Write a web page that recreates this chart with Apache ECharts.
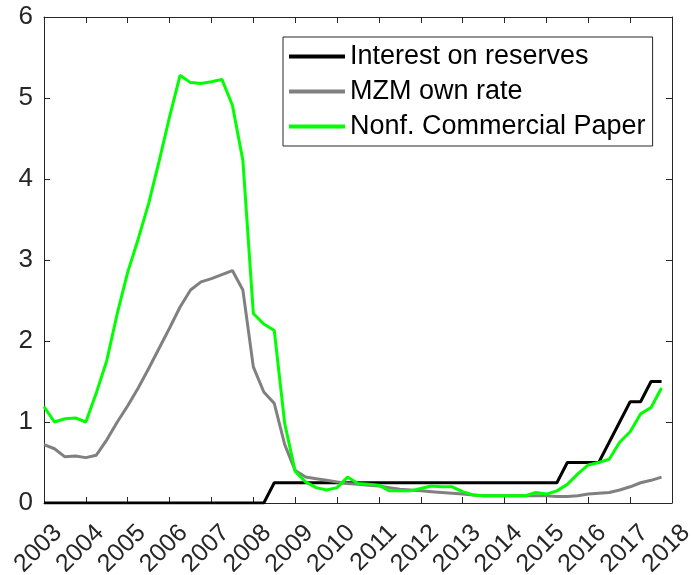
<!DOCTYPE html>
<html>
<head>
<meta charset="utf-8">
<script src="https://cdn.jsdelivr.net/npm/echarts@6/dist/echarts.min.js"></script>
<style>
html,body{margin:0;padding:0;background:#fff;}
#chart{width:692px;height:575px;}
</style>
</head>
<body>
<div id="chart"></div>
<script>
// Quarterly dates (decimal years), 2003Q1 .. 2017Q4
const quarters = [
  2003.00,2003.25,2003.50,2003.75, 2004.00,2004.25,2004.50,2004.75,
  2005.00,2005.25,2005.50,2005.75, 2006.00,2006.25,2006.50,2006.75,
  2007.00,2007.25,2007.50,2007.75, 2008.00,2008.25,2008.50,2008.75,
  2009.00,2009.25,2009.50,2009.75, 2010.00,2010.25,2010.50,2010.75,
  2011.00,2011.25,2011.50,2011.75, 2012.00,2012.25,2012.50,2012.75,
  2013.00,2013.25,2013.50,2013.75, 2014.00,2014.25,2014.50,2014.75,
  2015.00,2015.25,2015.50,2015.75, 2016.00,2016.25,2016.50,2016.75,
  2017.00,2017.25,2017.50,2017.75
];

const seriesNames = ['Interest on reserves', 'MZM own rate', 'Nonf. Commercial Paper'];

const interestOnReserves = [
  0,0,0,0, 0,0,0,0,
  0,0,0,0, 0,0,0,0,
  0,0,0,0, 0,0,0.25,0.25,
  0.25,0.25,0.25,0.25, 0.25,0.25,0.25,0.25,
  0.25,0.25,0.25,0.25, 0.25,0.25,0.25,0.25,
  0.25,0.25,0.25,0.25, 0.25,0.25,0.25,0.25,
  0.25,0.25,0.5,0.5, 0.5,0.5,0.75,1.0,
  1.25,1.25,1.5,1.5
];

const mzmOwnRate = [
  0.72,0.67,0.57,0.58, 0.56,0.59,0.78,1.00,
  1.20,1.42,1.66,1.91, 2.16,2.42,2.63,2.73,
  2.77,2.82,2.87,2.63, 1.68,1.37,1.23,0.72,
  0.40,0.32,0.30,0.28, 0.26,0.24,0.23,0.22,
  0.21,0.19,0.17,0.16, 0.15,0.14,0.13,0.12,
  0.11,0.10,0.09,0.09, 0.09,0.09,0.09,0.09,
  0.09,0.08,0.08,0.09, 0.11,0.12,0.13,0.16,
  0.20,0.25,0.28,0.32
];

const commercialPaper = [
  1.19,1.00,1.04,1.05, 1.00,1.36,1.76,2.34,
  2.85,3.26,3.70,4.22, 4.77,5.28,5.19,5.18,
  5.20,5.23,4.91,4.23, 2.34,2.21,2.13,0.98,
  0.39,0.26,0.19,0.16, 0.19,0.32,0.24,0.23,
  0.22,0.15,0.15,0.15, 0.18,0.21,0.20,0.20,
  0.14,0.10,0.09,0.09, 0.09,0.09,0.09,0.13,
  0.11,0.15,0.23,0.36, 0.47,0.50,0.54,0.75,
  0.88,1.10,1.18,1.42
];

// Tick labels
const xTickLabels = [2003,2004,2005,2006,2007,2008,2009,2010,2011,2012,2013,2014,2015,2016,2017,2018];
const yTickLabels = [0,1,2,3,4,5,6];

const xTickMin = xTickLabels[0], xTickMax = xTickLabels[xTickLabels.length - 1];
const yTickMin = yTickLabels[0], yTickMax = yTickLabels[yTickLabels.length - 1];

const pairs = arr => quarters.map((q, i) => [q, arr[i]]);

const FONT = "'Liberation Sans', Arial, Helvetica, sans-serif";
const AX = '#262626';

const axisCommon = {
  axisLine: { show: true, onZero: false, lineStyle: { color: AX, width: 1 } },
  axisTick: { show: true, inside: true, length: 6, lineStyle: { color: AX, width: 1 } },
  splitLine: { show: false }
};

const chart = echarts.init(document.getElementById('chart'), null, { renderer: 'canvas' });
chart.setOption({
  animation: false,
  backgroundColor: '#ffffff',
  grid: { left: 44, right: 20, top: 17, bottom: 72, containLabel: false, outerBoundsMode: 'none' },
  legend: {
    data: seriesNames,
    orient: 'vertical',
    left: 283, top: 37,
    padding: [6, 7, 6, 6],
    itemGap: 8,
    itemWidth: 56, itemHeight: 4,
    icon: 'rect',
    backgroundColor: '#ffffff',
    borderColor: '#262626', borderWidth: 1,
    textStyle: { fontFamily: FONT, fontSize: 27, color: '#000' }
  },
  xAxis: [
    Object.assign({
      type: 'value', min: xTickMin, max: xTickMax, interval: 1, position: 'bottom',
      axisLabel: { show: false }
    }, axisCommon),
    Object.assign({
      type: 'value', min: xTickMin, max: xTickMax, interval: 1, position: 'top',
      axisLabel: { show: false }
    }, axisCommon)
  ],
  yAxis: [
    Object.assign({
      type: 'value', min: yTickMin, max: yTickMax, interval: 1, position: 'left',
      axisLabel: { show: true, margin: 11, color: AX, fontFamily: FONT, fontSize: 26 }
    }, axisCommon),
    Object.assign({
      type: 'value', min: yTickMin, max: yTickMax, interval: 1, position: 'right',
      axisLabel: { show: false }
    }, axisCommon)
  ],
  series: [
    { name: seriesNames[0], type: 'line', data: pairs(interestOnReserves), showSymbol: false,
      color: '#000000', lineStyle: { color: '#000000', width: 3 }, z: 2 },
    { name: seriesNames[1], type: 'line', data: pairs(mzmOwnRate), showSymbol: false,
      color: '#808080', lineStyle: { color: '#808080', width: 3 }, z: 3 },
    { name: seriesNames[2], type: 'line', data: pairs(commercialPaper), showSymbol: false,
      color: '#00ff00', lineStyle: { color: '#00ff00', width: 3 }, z: 4 }
  ]
});

// Rotated x tick labels, positioned through the axis scale (MATLAB-style placement)
const yBase = chart.convertToPixel({ yAxisIndex: 0 }, yTickMin);
chart.setOption({
  graphic: xTickLabels.map(lbl => ({
    type: 'text',
    x: chart.convertToPixel({ xAxisIndex: 0 }, lbl) + 14,
    y: yBase + 26,
    rotation: Math.PI / 4,
    silent: true,
    style: {
      text: String(lbl),
      fill: AX,
      fontSize: 25,
      fontFamily: FONT,
      align: 'right', textAlign: 'right',
      verticalAlign: 'middle', textVerticalAlign: 'middle'
    }
  }))
});
</script>
</body>
</html>
